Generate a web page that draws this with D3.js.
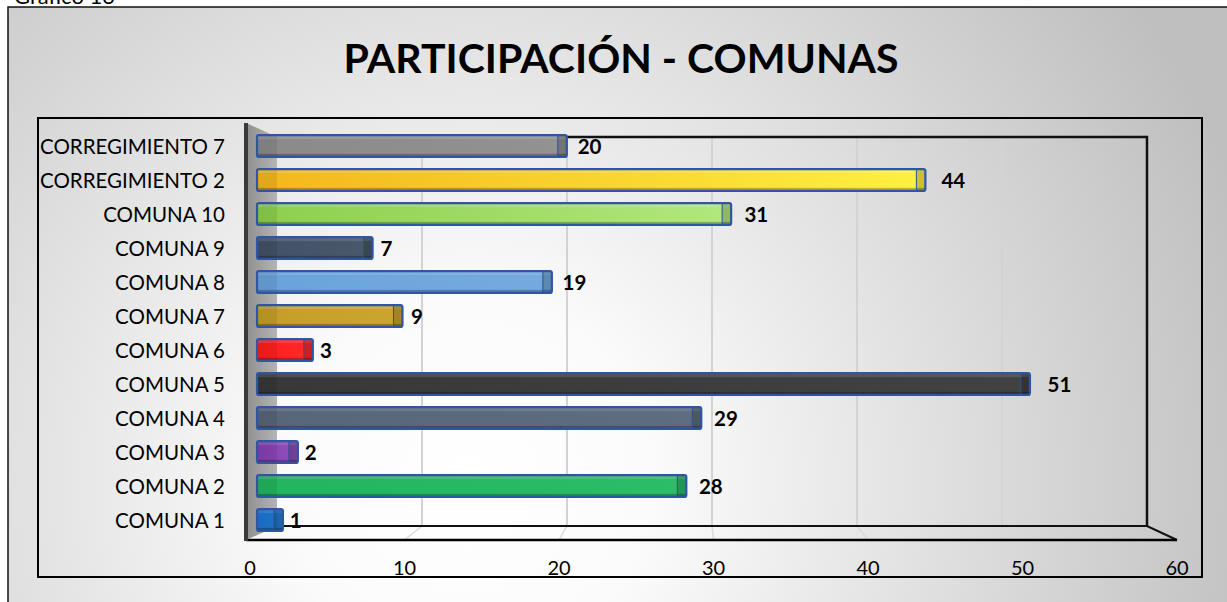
<!DOCTYPE html>
<html>
<head>
<meta charset="utf-8">
<script src="https://cdn.jsdelivr.net/npm/d3@7"></script>
<style>
  body { margin: 0; background: #fff; }
  svg { display: block; font-family: Lato, "Open Sans", sans-serif; }
</style>
</head>
<body>
<svg width="1227" height="602"></svg>
<script>
const svg = d3.select("svg");

// data, top row first
const categories = ["CORREGIMIENTO 7", "CORREGIMIENTO 2", "COMUNA 10", "COMUNA 9", "COMUNA 8",
  "COMUNA 7", "COMUNA 6", "COMUNA 5", "COMUNA 4", "COMUNA 3", "COMUNA 2", "COMUNA 1"];
const values = [20, 44, 31, 7, 19, 9, 3, 51, 29, 2, 28, 1];
const xTicks = [0, 10, 20, 30, 40, 50, 60];

const barColors = [
  ["#8a8a8a", "#929292"], ["#f4b71c", "#fdf140"], ["#8ccf4d", "#b3e87c"], ["#435168", "#4a586c"],
  ["#6aa3dc", "#74aade"], ["#c59e27", "#cba62e"], ["#ff1c1c", "#ff2a2a"], ["#383838", "#424242"],
  ["#586679", "#5f6d80"], ["#8440b2", "#9150bb"], ["#22b55f", "#2bbd69"], ["#1a74cf", "#2480d8"]
];

const defs = svg.append("defs");
const bg = defs.append("radialGradient").attr("id", "bg")
  .attr("gradientUnits", "userSpaceOnUse")
  .attr("cx", 470).attr("cy", 480).attr("r", 820);
bg.append("stop").attr("offset", 0).attr("stop-color", "#ffffff");
bg.append("stop").attr("offset", 0.22).attr("stop-color", "#fbfbfb");
bg.append("stop").attr("offset", 1).attr("stop-color", "#bfbfbf");

const wall = defs.append("linearGradient").attr("id", "wall");
wall.append("stop").attr("offset", 0).attr("stop-color", "#8f8f8f");
wall.append("stop").attr("offset", 1).attr("stop-color", "#b4b4b4");

barColors.forEach((c, i) => {
  const g = defs.append("linearGradient").attr("id", "bar" + i);
  g.append("stop").attr("offset", 0).attr("stop-color", c[0]);
  g.append("stop").attr("offset", 1).attr("stop-color", c[1]);
});

// chart frame
svg.append("text").attr("x", 14).attr("y", 4)
  .attr("font-size", 22).attr("fill", "#000").text("Gráfico 13");
svg.append("rect").attr("x", 8).attr("y", 7).attr("width", 1240).attr("height", 620)
  .attr("fill", "url(#bg)").attr("stroke", "#111").attr("stroke-width", 1.5);

svg.append("text").attr("x", 621).attr("y", 73).attr("text-anchor", "middle")
  .attr("font-size", 41).attr("font-weight", "bold").text("PARTICIPACIÓN - COMUNAS");

svg.append("rect").attr("x", 38).attr("y", 118).attr("width", 1164).attr("height", 459)
  .attr("fill", "none").attr("stroke", "#000").attr("stroke-width", 2);

// 3d layout
const backTop = 137, backBottom = 526, frontBottom = 540, wallTop = 123;
const xBack = d3.scaleLinear().domain([0, 60]).range([277, 1147]);
const xFront = d3.scaleLinear().domain([0, 60]).range([250, 1177]);
const xBar = d3.scaleLinear().domain([0, 60]).range([268, 1164.4]);
const xLabel = d3.scaleLinear().domain([0, 60]).range([274.5, 1184]);
const y = d3.scaleBand().domain(categories).range([129, 537]).paddingInner(0.36).paddingOuter(0.18);

// gridlines on back wall and floor
const grid = svg.append("g");
grid.selectAll("line.back").data(xTicks.slice(1, -1)).join("line")
  .attr("x1", d => xBack(d)).attr("x2", d => xBack(d))
  .attr("y1", backTop).attr("y2", backBottom)
  .attr("stroke", "#d3d3d3").attr("stroke-width", 2);
grid.selectAll("line.floor").data(xTicks.slice(1, -1)).join("line")
  .attr("x1", d => xBack(d)).attr("x2", d => xFront(d))
  .attr("y1", backBottom).attr("y2", frontBottom)
  .attr("stroke", "#dadada").attr("stroke-width", 1.5);

// back wall edges
grid.append("path")
  .attr("d", `M${xBack(0)},${backTop}H${xBack(60)}V${backBottom}`)
  .attr("fill", "none").attr("stroke", "#111").attr("stroke-width", 2.5);
grid.append("path")
  .attr("d", `M${xBack(0)},${backBottom}H${xBack(60)}L${xFront(60)},${frontBottom}`)
  .attr("fill", "none").attr("stroke", "#111").attr("stroke-width", 2);
grid.append("line")
  .attr("x1", 246).attr("x2", xFront(60)).attr("y1", frontBottom).attr("y2", frontBottom)
  .attr("stroke", "#000").attr("stroke-width", 2.5);

// left wall
grid.append("path")
  .attr("d", `M246,${wallTop}L${xBack(0)},${backTop}V${backBottom}L246,${frontBottom}Z`)
  .attr("fill", "url(#wall)");
grid.append("line").attr("x1", 246).attr("x2", 246).attr("y1", wallTop).attr("y2", frontBottom + 1)
  .attr("stroke", "#3a3a3a").attr("stroke-width", 4);

// x tick labels
svg.append("g").selectAll("text").data(xTicks).join("text")
  .attr("x", d => xFront(d)).attr("y", 575).attr("text-anchor", "middle")
  .attr("font-size", 20).text(d => d);

// category labels
svg.append("g").selectAll("text").data(categories).join("text")
  .attr("x", 225).attr("y", d => y(d) + y.bandwidth() / 2 + 1)
  .attr("dy", "0.35em").attr("text-anchor", "end")
  .attr("font-size", 20.5).text(d => d);

// bars
const barStart = xBar(0) - 11;
const bars = svg.append("g").selectAll("g").data(values).join("g");
bars.append("rect")
  .attr("x", barStart).attr("y", (d, i) => y(categories[i]))
  .attr("width", d => xBar(d) - barStart).attr("height", y.bandwidth())
  .attr("fill", (d, i) => `url(#bar${i})`);
// top light strip
bars.append("rect")
  .attr("x", barStart).attr("y", (d, i) => y(categories[i]))
  .attr("width", d => xBar(d) - barStart).attr("height", 4)
  .attr("fill", "#fff").attr("opacity", 0.12);
// bottom depth strip
bars.append("rect")
  .attr("x", barStart).attr("y", (d, i) => y(categories[i]) + y.bandwidth() - 3)
  .attr("width", d => xBar(d) - barStart).attr("height", 3)
  .attr("fill", "#000").attr("opacity", 0.25);
// wall shadow on bar start
bars.append("rect")
  .attr("x", barStart).attr("y", (d, i) => y(categories[i]))
  .attr("width", xBack(0) - barStart).attr("height", y.bandwidth())
  .attr("fill", "#000").attr("opacity", 0.08);
// end cap
bars.append("rect")
  .attr("x", d => xBar(d) - 9).attr("y", (d, i) => y(categories[i]))
  .attr("width", 9).attr("height", y.bandwidth())
  .attr("fill", "#000").attr("opacity", 0.2);
bars.append("line")
  .attr("x1", d => xBar(d) - 9).attr("x2", d => xBar(d) - 9)
  .attr("y1", (d, i) => y(categories[i])).attr("y2", (d, i) => y(categories[i]) + y.bandwidth())
  .attr("stroke", "#2d4f96").attr("stroke-width", 1);
// outline
bars.append("rect")
  .attr("x", barStart).attr("y", (d, i) => y(categories[i]))
  .attr("width", d => xBar(d) - barStart).attr("height", y.bandwidth())
  .attr("rx", 2)
  .attr("fill", "none").attr("stroke", "#2f55a3").attr("stroke-width", 2.2);

// value labels
svg.append("g").selectAll("text").data(values).join("text")
  .attr("x", d => xLabel(d)).attr("y", (d, i) => y(categories[i]) + y.bandwidth() / 2 + 1)
  .attr("dy", "0.35em").attr("font-size", 20.5).attr("font-weight", "bold")
  .text(d => d);
</script>
</body>
</html>
